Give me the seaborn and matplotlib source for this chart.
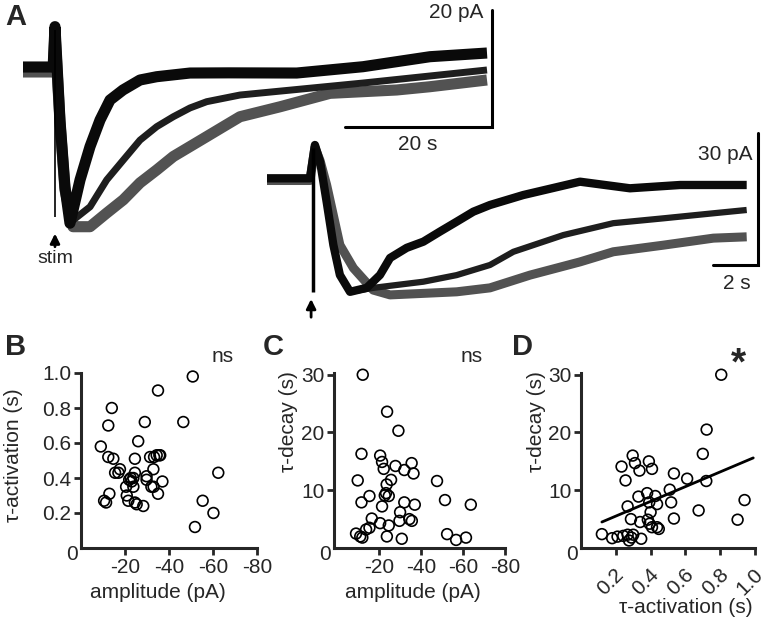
import matplotlib
matplotlib.use("Agg")
import matplotlib.pyplot as plt
from matplotlib.transforms import ScaledTranslation
import seaborn as sns

# ---- panel A: slow EPSC traces (time in s, current in pA) ----
# long time-scale recording
top_fast_t = [0, 4.1, 4.35, 5.03, 5.71, 6.39, 7.76, 9.12, 10.48, 11.84, 13.6, 15.92, 18.19,
              22.72, 28.0, 37.24, 46.26, 55.37, 63.13]
top_fast_pa = [0, 0, 6.9, -9.1, -20.5, -26.7, -19.3, -13.6, -9.06, -5.64, -3.93, -2.22, -1.66,
               -1.03, -1.0, -1.03, 0.05, 1.76, 2.39]
top_mid_t = [0, 4.1, 4.35, 5.03, 5.71, 6.8, 9.12, 11.39, 13.65, 15.92, 18.19, 20.45, 22.72,
             24.99, 29.52, 46.26, 63.13]
top_mid_pa = [0, 0, 6.9, -9.1, -20.5, -26.2, -23.9, -19.3, -15.9, -12.5, -10.2, -8.5, -7.0,
              -5.93, -4.79, -2.74, -0.51]
top_slow_t = [0, 4.1, 4.35, 5.03, 5.71, 6.8, 9.12, 11.39, 13.65, 15.92, 18.19, 20.45, 22.72,
              24.99, 27.25, 29.52, 34.97, 41.77, 50.84, 55.37, 63.13]
top_slow_pa = [-0.85, -0.85, 6.0, -9.5, -21.0, -27.3, -27.3, -24.96, -22.7, -19.8, -17.6, -15.3,
               -13.6, -11.9, -10.2, -8.5, -6.8, -4.5, -3.93, -3.37, -2.22]
top_stim_t = 4.35
top_stim_range = (6.3, -25.6)

# short time-scale recording
bot_fast_t = [0, 1.91, 2.13, 2.36, 2.65, 2.95, 3.24, 3.69, 4.43, 5.02, 5.47, 6.21, 6.95, 7.69,
              8.43, 9.17, 9.91, 11.39, 13.91, 16.13, 18.36, 21.32]
bot_fast_pa = [0, 0, 7.57, 3.77, -5.32, -15.16, -21.98, -25.8, -24.9, -21.98, -18.1, -15.8,
               -14.4, -12.1, -9.86, -7.59, -6.07, -3.8, -0.77, -2.27, -1.52, -1.52]
bot_mid_t = [0, 1.91, 2.13, 2.36, 2.65, 2.95, 3.24, 3.69, 4.72, 6.95, 8.43, 9.91, 10.95, 13.17,
             15.39, 17.61, 19.84, 21.32]
bot_mid_pa = [0, 0, 7.57, 3.77, -5.32, -15.16, -21.98, -25.8, -24.9, -23.5, -22.0, -19.7,
              -16.7, -12.9, -10.2, -9.1, -7.95, -7.2]
bot_slow_t = [0, 1.91, 2.13, 2.36, 2.65, 3.24, 3.84, 4.72, 5.47, 8.43, 9.91, 11.69, 13.91,
              15.39, 17.61, 19.84, 21.32]
bot_slow_pa = [-0.5, -0.5, 7.0, 4.0, -1.5, -15.16, -20.4, -25.4, -26.5, -25.8, -24.9, -22.0,
               -19.0, -16.7, -15.2, -13.6, -13.3]
bot_stim_t = 2.03
bot_stim_range = (6.9, -25.8)

# ---- panels B-D: per-cell kinetics ----
b_amp = [-9, -14, -12.4, -12.4, -14.7, -15.5, -17, -17.7, -10.5, -11.4, -12.9, -20.5, -20.8, -21.5,
         -22.6, -23, -23.8, -24.5, -24.5, -23.8, -24.5, -25.3, -26, -28.3, -29, -29.8, -29.8, -31.4,
         -32, -32.9, -33.2, -34.4, -35.6, -36, -35, -35, -37, -33, -46.5, -50.8, -51.8, -55.3,
         -60.2, -62.4, -21.9]
b_tact = [0.58, 0.80, 0.70, 0.52, 0.51, 0.43, 0.43, 0.45, 0.27, 0.26, 0.31, 0.35, 0.30, 0.27,
          0.40, 0.38, 0.40, 0.51, 0.43, 0.35, 0.26, 0.25, 0.61, 0.24, 0.72, 0.41, 0.39, 0.52,
          0.35, 0.45, 0.52, 0.53, 0.53, 0.53, 0.90, 0.31, 0.38, 0.35, 0.72, 0.98, 0.12, 0.27,
          0.20, 0.43, 0.39]

c_amp = [-12.2, -23.8, -29.2, -11.6, -20.5, -21.4, -22.2, -27.8, -32, -35.5, -36.4, -25.7, -9.8,
         -23.6, -23.3, -24.6, -22.7, -15.4, -11.6, -21.4, -32, -37, -30, -29.7, -16.5, -20.5,
         -15.4, -13.8, -24.6, -34.4, -35.6, -9, -11, -12, -23.7, -30.8, -47.6, -51.4, -63.7,
         -52.4, -56.7, -61.4]
c_tdec = [30.0, 23.6, 20.3, 16.3, 16.0, 14.9, 13.7, 14.2, 13.5, 14.7, 12.9, 11.8, 11.7,
          11.0, 9.5, 9.0, 9.1, 9.0, 7.9, 7.2, 7.9, 7.5, 6.2, 4.7, 5.1, 4.3,
          3.5, 3.2, 3.9, 5.0, 4.7, 2.5, 2.0, 1.8, 2.0, 1.6, 11.6, 8.3, 7.5,
          2.4, 1.4, 1.8]

d_tact = [0.806, 0.722, 0.70, 0.94, 0.90, 0.72, 0.676, 0.61, 0.534, 0.51, 0.518, 0.534, 0.297,
          0.31, 0.233, 0.336, 0.39, 0.408, 0.256, 0.33, 0.38, 0.427, 0.392, 0.437, 0.40, 0.268,
          0.287, 0.34, 0.384, 0.408, 0.437, 0.447, 0.394, 0.12, 0.179, 0.21, 0.243, 0.268,
          0.276, 0.30, 0.346, 0.29]
d_tdec = [30.0, 20.5, 16.3, 8.3, 4.9, 11.6, 6.5, 12.0, 12.9, 10.1, 7.9, 5.1, 16.0,
          14.7, 14.1, 13.4, 15.0, 13.7, 11.7, 8.9, 9.5, 9.0, 7.9, 7.6, 6.2, 7.2,
          5.0, 4.5, 4.9, 3.6, 3.6, 3.3, 4.2, 2.4, 1.7, 1.97, 2.1, 2.3,
          1.3, 2.3, 1.6, 1.8]
fit_x = [0.12, 0.99]
fit_y = [4.5, 15.6]

C_FAST = "#0a0a0a"
C_MID = "#1e1e1e"
C_SLOW = "#525252"

sns.set_style("ticks")
plt.rcParams["font.family"] = ["Liberation Sans", "DejaVu Sans"]
plt.rcParams["axes.unicode_minus"] = False

W, H = 766, 619
fig = plt.figure(figsize=(W / 100, H / 100), dpi=100)


def px_box(x0, y0, x1, y1):
    return [x0 / W, 1 - y1 / H, (x1 - x0) / W, (y1 - y0) / H]


def trace(ax, t, pa, color, lw):
    sns.lineplot(x=t, y=pa, ax=ax, color=color, lw=lw, sort=False, estimator=None,
                 solid_joinstyle="round", solid_capstyle="butt")


# top traces, 7.35 px/s and 5.85 px/pA
ax_top = fig.add_axes(px_box(0, 0, W, 330))
ax_top.set_xlim(-23 / 7.35, 743 / 7.35)
ax_top.set_ylim(-263 / 5.85, 67 / 5.85)
ax_top.axis("off")
ax_top.patch.set_alpha(0)
trace(ax_top, top_slow_t, top_slow_pa, C_SLOW, 8)
trace(ax_top, top_mid_t, top_mid_pa, C_MID, 5)
trace(ax_top, top_fast_t, top_fast_pa, C_FAST, 8)
ax_top.vlines(top_stim_t, top_stim_range[1], top_stim_range[0], color="black", lw=1.2)
ax_top.plot([43.8, 63.8, 63.8], [-10.26, -10.26, 9.74], color="black", lw=2.2,
            solid_joinstyle="miter")
ax_top.text(62.6, 9.4, "20 pA", ha="right", va="center", fontsize=15)
ax_top.text(53.7, -13.2, "20 s", ha="center", va="center", fontsize=15)
ax_top.annotate("", xy=(top_stim_t, -28.0), xytext=(top_stim_t, -31.2),
                arrowprops=dict(arrowstyle="-|>", color="black", lw=2, mutation_scale=14))
ax_top.text(top_stim_t, -32.8, "stim", ha="center", va="center", fontsize=14)

# bottom traces, 22.5 px/s and 4.4 px/pA
ax_bot = fig.add_axes(px_box(0, 0, W, 330))
ax_bot.set_xlim(-267 / 22.5, 499 / 22.5)
ax_bot.set_ylim(-151.7 / 4.4, 178.3 / 4.4)
ax_bot.axis("off")
ax_bot.patch.set_alpha(0)
trace(ax_bot, bot_slow_t, bot_slow_pa, C_SLOW, 6.5)
trace(ax_bot, bot_mid_t, bot_mid_pa, C_MID, 4.5)
trace(ax_bot, bot_fast_t, bot_fast_pa, C_FAST, 6)
ax_bot.vlines(bot_stim_t, bot_stim_range[1], bot_stim_range[0], color="black", lw=2.5)
ax_bot.plot([19.82, 21.82, 21.82], [-19.7, -19.7, 10.3], color="black", lw=2.2,
            solid_joinstyle="miter")
ax_bot.text(21.56, 5.3, "30 pA", ha="right", va="center", fontsize=15)
ax_bot.text(20.9, -24.0, "2 s", ha="center", va="center", fontsize=15)
ax_bot.annotate("", xy=(1.96, -26.8), xytext=(1.96, -32.2),
                arrowprops=dict(arrowstyle="-|>", color="black", lw=2, mutation_scale=14))


def style_scatter_axes(ax):
    sns.despine(ax=ax)
    for s in ("left", "bottom"):
        ax.spines[s].set_linewidth(2.2)
    ax.tick_params(direction="out", length=5, width=2, labelsize=15, pad=2)
    ax.patch.set_alpha(0)
    ax.text(-0.02, -0.04, "0", transform=ax.transAxes, ha="right", va="center", fontsize=15)


def dots(ax, x, y):
    sns.scatterplot(x=x, y=y, ax=ax, s=60, marker="o", facecolors="none",
                    edgecolor="black", linewidth=1.2, zorder=3, clip_on=False)


# B
ax_b = fig.add_axes(px_box(81, 373, 257, 548))
dots(ax_b, b_amp, b_tact)
ax_b.set_xlim(0, -80)
ax_b.set_ylim(0, 1.0)
ax_b.set_xticks([-20, -40, -60, -80])
ax_b.set_yticks([0.2, 0.4, 0.6, 0.8, 1.0])
ax_b.set_yticklabels(["0.2", "0.4", "0.6", "0.8", "1.0"])
ax_b.set_xlabel("amplitude (pA)", fontsize=15)
ax_b.set_ylabel("τ-activation (s)", fontsize=15)
ax_b.xaxis.set_label_coords(0.4375, -0.257)
ax_b.yaxis.set_label_coords(-0.386, 0.531)
style_scatter_axes(ax_b)

# C
ax_c = fig.add_axes(px_box(334, 373, 505, 548))
dots(ax_c, c_amp, c_tdec)
ax_c.set_xlim(1.5, -80)
ax_c.set_ylim(0, 30.3)
ax_c.set_xticks([-20, -40, -60, -80])
ax_c.set_yticks([10, 20, 30])
ax_c.set_xlabel("amplitude (pA)", fontsize=15)
ax_c.set_ylabel("τ-decay (s)", fontsize=15)
ax_c.xaxis.set_label_coords(0.462, -0.257)
ax_c.yaxis.set_label_coords(-0.269, 0.72)
style_scatter_axes(ax_c)

# D
ax_d = fig.add_axes(px_box(581, 373, 755, 548))
dots(ax_d, d_tact, d_tdec)
sns.lineplot(x=fit_x, y=fit_y, ax=ax_d, color="black", lw=2)
ax_d.set_xlim(0, 1.0)
ax_d.set_ylim(0, 30.3)
ax_d.set_xticks([0.2, 0.4, 0.6, 0.8, 1.0])
ax_d.set_xticklabels(["0.2", "0.4", "0.6", "0.8", "1.0"], rotation=45, ha="center")
ax_d.set_yticks([10, 20, 30])
ax_d.set_xlabel("τ-activation (s)", fontsize=15)
ax_d.set_ylabel("τ-decay (s)", fontsize=15)
ax_d.xaxis.set_label_coords(0.60, -0.34)
ax_d.yaxis.set_label_coords(-0.254, 0.72)
style_scatter_axes(ax_d)
ax_d.tick_params(axis="x", pad=7)
for lab in ax_d.get_xticklabels():
    lab.set_transform(lab.get_transform() + ScaledTranslation(-0.05, 0, fig.dpi_scale_trans))

for ax in (ax_b, ax_c, ax_d):
    ax.xaxis.label.set_va("center")
    ax.yaxis.label.set_va("center")

# panel letters and significance marks
for lbl, x, y in [("A", 16, 17), ("B", 16, 347), ("C", 273, 347), ("D", 522, 347)]:
    fig.text(x / W, 1 - y / H, lbl, ha="center", va="center", fontsize=21, weight="bold")
fig.text(223 / W, 1 - 357 / H, "ns", ha="center", va="center", fontsize=15)
fig.text(472 / W, 1 - 357 / H, "ns", ha="center", va="center", fontsize=15)
fig.text(738 / W, 1 - 364 / H, "*", ha="center", va="center", fontsize=28, weight="bold")

fig.savefig("out.png", dpi=100)
